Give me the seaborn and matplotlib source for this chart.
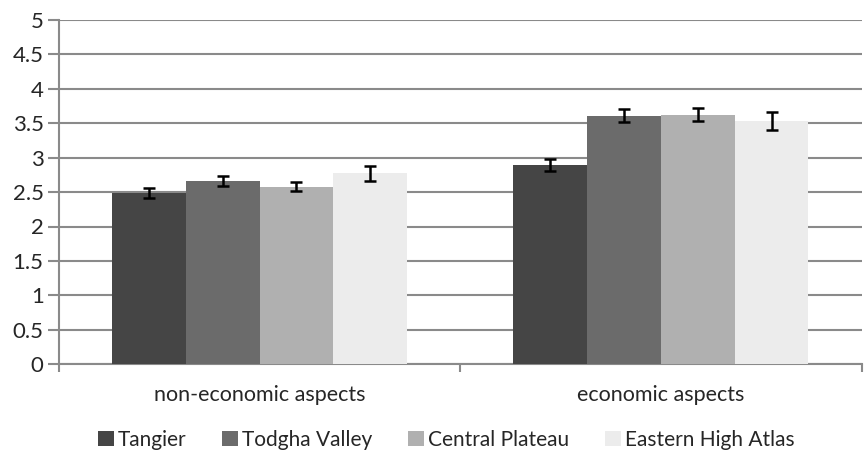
import numpy as np
import pandas as pd
import matplotlib
matplotlib.use("Agg")
import matplotlib.pyplot as plt
import seaborn as sns
from matplotlib.patches import Patch

categories = ["non-economic aspects", "economic aspects"]
regions = ["Tangier", "Todgha Valley", "Central Plateau", "Eastern High Atlas"]
means_non_economic = [2.49, 2.66, 2.58, 2.77]
means_economic = [2.89, 3.61, 3.62, 3.53]
err_non_economic = [0.07, 0.07, 0.065, 0.11]
err_economic = [0.085, 0.09, 0.095, 0.13]
colors = ["#454545", "#6b6b6b", "#b0b0b0", "#ececec"]
ytick_labels = ["0", "0.5", "1", "1.5", "2", "2.5", "3", "3.5", "4", "4.5", "5"]

df = pd.DataFrame({
    "aspect": [categories[0]] * 4 + [categories[1]] * 4,
    "region": regions * 2,
    "mean": means_non_economic + means_economic,
    "err": err_non_economic + err_economic,
})

sns.set_theme(style="white")
plt.rcParams["font.family"] = ["Lato", "DejaVu Sans"]

fig = plt.figure(figsize=(8.66, 4.53), dpi=100)
ax = fig.add_axes([0.068, 0.196, 0.927, 0.76])

sns.barplot(data=df, x="aspect", y="mean", hue="region", order=categories,
            hue_order=regions, palette=colors, width=0.735, errorbar=None,
            saturation=1, linewidth=0, ax=ax, legend=False, zorder=3)

# error bars at the bar centres laid out by seaborn
for i, region in enumerate(regions):
    cont = ax.containers[i]
    for j, bar in enumerate(cont):
        row = df[(df.region == region) & (df.aspect == categories[j])].iloc[0]
        xc = bar.get_x() + bar.get_width() / 2
        ax.errorbar(xc, row["mean"], yerr=row["err"], fmt="none", ecolor="black",
                    elinewidth=1.8, capsize=4.5, capthick=1.8, zorder=4)

ax.set_ylim(0, 5)
ax.set_xlim(-0.5, 1.5)
ax.set_yticks(np.arange(0, 5.01, 0.5))
ax.set_yticklabels(ytick_labels, fontsize=16)
ax.yaxis.grid(True, color="#8a8a8a", linewidth=1.5, zorder=0)
ax.set_axisbelow(True)

# category boundaries as major ticks, labels at centres as minor ticks
ax.set_xticks([-0.5, 0.5, 1.5])
ax.set_xticklabels([])
ax.set_xticks([0, 1], minor=True)
ax.set_xticklabels(categories, minor=True, fontsize=15.5)
ax.tick_params(axis="x", which="major", length=6, width=1.5, color="#8a8a8a",
               direction="out", bottom=True)
ax.tick_params(axis="x", which="minor", length=0, pad=15)
ax.tick_params(axis="y", length=8, width=1.5, color="#8a8a8a", direction="out",
               left=True, pad=3)
ax.set_xlabel("")
ax.set_ylabel("")

for side in ["top", "right"]:
    ax.spines[side].set_visible(False)
for side in ["left", "bottom"]:
    ax.spines[side].set_color("#8a8a8a")
    ax.spines[side].set_linewidth(1.5)

handles = [Patch(facecolor=c, edgecolor="none") for c in colors]
fig.legend(handles, regions, loc="center", bbox_to_anchor=(0.515, 0.029), ncol=4,
           frameon=False, fontsize=15, handlelength=0.77, handleheight=0.77,
           handletextpad=0.2, columnspacing=1.7)

fig.savefig("out.png", dpi=100)
